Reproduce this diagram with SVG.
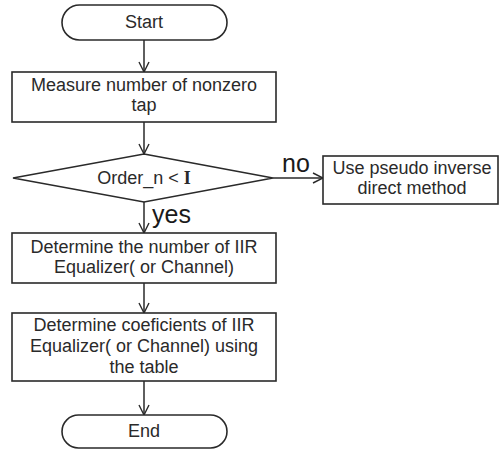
<svg xmlns="http://www.w3.org/2000/svg" width="500" height="450" viewBox="0 0 500 450">
<defs>
<style>
.shape{fill:#fff;stroke:#2a2a2a;stroke-width:1.6}
.t{font-family:"Liberation Sans",Arial,sans-serif;font-size:18px;fill:#2a2a2a;text-anchor:middle}
.lbl{font-family:"Liberation Sans",Arial,sans-serif;font-size:25px;fill:#1a1a1a}
.edge{fill:none;stroke:#2a2a2a;stroke-width:1.5;marker-end:url(#arr)}
</style>
<marker id="arr" viewBox="0 0 12 12" refX="11" refY="6" markerWidth="12" markerHeight="12" markerUnits="userSpaceOnUse" orient="auto">
<polyline points="1,1 11,6 1,11" fill="none" stroke="#2a2a2a" stroke-width="1.4"/>
</marker>
</defs>
<rect width="500" height="450" fill="#fff"/>
<g id="connectors">
<line class="edge" x1="144" y1="40" x2="144" y2="72"/>
<line class="edge" x1="144" y1="122" x2="144" y2="154"/>
<line class="edge" x1="144" y1="202" x2="144" y2="233"/>
<line class="edge" x1="273" y1="178" x2="323" y2="178"/>
<line class="edge" x1="144" y1="283" x2="144" y2="313"/>
<line class="edge" x1="144" y1="381" x2="144" y2="415"/>
<text class="lbl" x="152" y="223">yes</text>
<text class="lbl" x="282" y="172">no</text>
</g>
<g id="start">
<rect class="shape" x="62" y="5" width="165" height="35" rx="17.5"/>
<text class="t" x="144" y="28">Start</text>
</g>
<g id="measure">
<rect class="shape" x="12" y="72" width="264" height="50"/>
<text class="t" x="144" y="91">Measure number of nonzero</text>
<text class="t" x="144" y="111">tap</text>
</g>
<g id="decision">
<polygon class="shape" points="144,154 273,178 144,202 13,178"/>
<text class="t" x="144" y="184">Order_n &lt; <tspan font-family="'Liberation Serif','Times New Roman',serif" font-weight="bold">I</tspan></text>
</g>
<g id="pseudo">
<rect class="shape" x="323" y="156" width="175" height="48"/>
<text class="t" x="412" y="174">Use pseudo inverse</text>
<text class="t" x="412" y="194">direct method</text>
</g>
<g id="number">
<rect class="shape" x="12" y="233" width="264" height="50"/>
<text class="t" x="144" y="253">Determine the number of IIR</text>
<text class="t" x="144" y="273">Equalizer( or Channel)</text>
</g>
<g id="coef">
<rect class="shape" x="12" y="313" width="264" height="68"/>
<text class="t" x="144" y="331">Determine coeficients of IIR</text>
<text class="t" x="144" y="352">Equalizer( or Channel) using</text>
<text class="t" x="144" y="373">the table</text>
</g>
<g id="end">
<rect class="shape" x="62" y="415" width="165" height="33" rx="16.5"/>
<text class="t" x="144" y="437">End</text>
</g>
</svg>
